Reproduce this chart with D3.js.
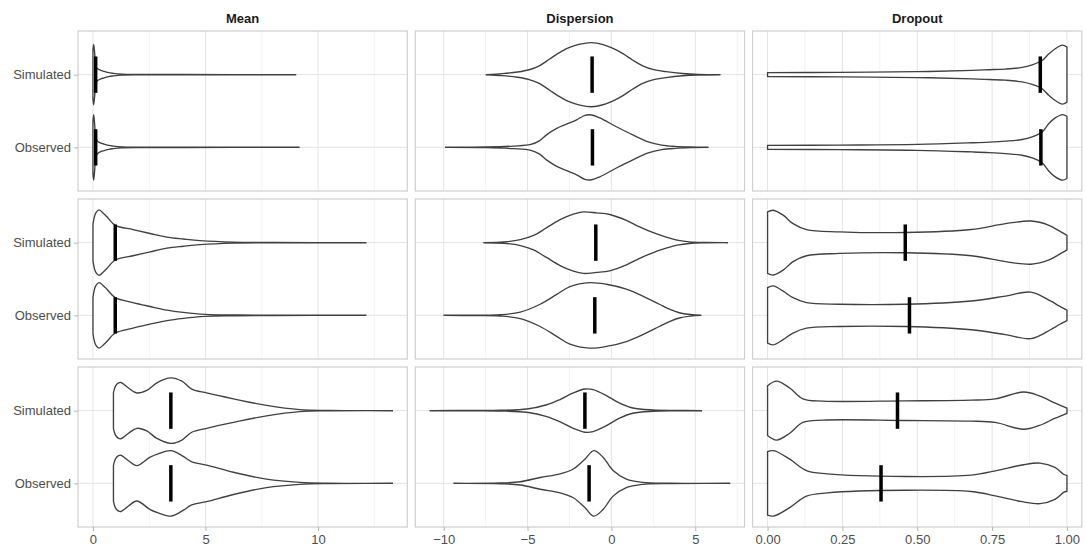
<!DOCTYPE html>
<html lang="en">
<head>
  <meta charset="UTF-8">
  <script src="https://cdn.jsdelivr.net/npm/d3@7"></script>
  <title>violins</title>
  <style>
    body { margin: 0; background: #fff; }
    text { font-family: Arial, "Liberation Sans", sans-serif; }
  </style>
</head>
<body>
  <svg class="svg" width="1086" height="546"></svg>
  <script>
    // facet columns and violin groups
    const columns = ["Mean", "Dispersion", "Dropout"]
    const groups = ["Simulated", "Observed"]
    const meanTicks = [0, 5, 10]
    const dispTicks = [-10, -5, 0, 5]
    const dropTicks = [0, 0.25, 0.5, 0.75, 1]

    // violin profiles: [value, relative half width]
    const mean1Sim = [[0, 0.75], [0.03, 0.92], [0.07, 0.7], [0.11, 0.38], [0.16, 0.22], [0.22, 0.17], [0.35, 0.13], [0.5, 0.1], [0.7, 0.06], [0.9, 0.04], [1.3, 0.015], [2, 0.006], [4, 0.003], [9.0, 0.002]]
    const mean1Obs = [[0, 0.8], [0.03, 1.0], [0.07, 0.75], [0.11, 0.4], [0.16, 0.23], [0.22, 0.18], [0.35, 0.13], [0.5, 0.1], [0.7, 0.06], [0.9, 0.04], [1.3, 0.015], [2, 0.006], [4, 0.003], [9.15, 0.002]]
    const mean2Sim = [[0, 0.55], [0.05, 0.75], [0.12, 0.9], [0.27, 1.0], [0.47, 0.89], [0.62, 0.79], [0.99, 0.53], [1.78, 0.4], [2.54, 0.28], [3.28, 0.17], [4.02, 0.11], [4.76, 0.06], [6.24, 0.015], [8, 0.005], [12.12, 0.002]]
    const mean2Obs = [[0, 0.55], [0.05, 0.75], [0.12, 0.9], [0.27, 1.0], [0.47, 0.9], [0.62, 0.8], [0.99, 0.54], [1.78, 0.39], [2.54, 0.27], [3.28, 0.16], [4.02, 0.09], [5.0, 0.03], [6.24, 0.012], [8, 0.004], [12.12, 0.002]]
    const mean3Sim = [[0.91, 0.55], [1.0, 0.75], [1.12, 0.84], [1.24, 0.86], [1.58, 0.69], [1.95, 0.54], [2.39, 0.62], [2.84, 0.85], [3.46, 1.0], [3.95, 0.9], [4.39, 0.66], [5.05, 0.54], [6.24, 0.36], [7.71, 0.16], [9.19, 0.03], [10.5, 0.006], [13.3, 0.002]]
    const mean3Obs = [[0.91, 0.55], [1.0, 0.75], [1.12, 0.84], [1.24, 0.86], [1.58, 0.69], [1.95, 0.54], [2.54, 0.8], [2.9, 0.9], [3.46, 1.0], [3.95, 0.85], [4.39, 0.66], [5.05, 0.56], [6.24, 0.34], [7.71, 0.13], [9.19, 0.03], [10.5, 0.006], [13.3, 0.002]]

    const disp1Sim = [[-7.46, 0.002], [-6.5, 0.03], [-5.6, 0.08], [-4.9, 0.15], [-4.3, 0.27], [-3.7, 0.47], [-3.2, 0.64], [-2.6, 0.81], [-1.88, 0.93], [-1.18, 0.98], [-0.5, 0.92], [0.1, 0.8], [0.69, 0.64], [1.28, 0.44], [1.87, 0.27], [2.47, 0.16], [3.26, 0.09], [4.24, 0.035], [5.2, 0.01], [6.47, 0.002]]
    const disp1Obs = [[-9.88, 0.002], [-7.5, 0.01], [-5.83, 0.04], [-4.8, 0.09], [-4.3, 0.2], [-3.85, 0.39], [-3.26, 0.58], [-2.67, 0.71], [-2.07, 0.84], [-1.58, 0.98], [-1.18, 0.99], [-0.69, 0.9], [0.3, 0.63], [1.28, 0.38], [2.2, 0.17], [3.0, 0.07], [3.8, 0.03], [4.7, 0.01], [5.76, 0.002]]
    const disp2Sim = [[-7.6, 0.002], [-6.42, 0.02], [-5.43, 0.09], [-4.64, 0.22], [-3.85, 0.46], [-3.06, 0.7], [-2.27, 0.87], [-1.68, 0.94], [-0.89, 0.91], [-0.1, 0.86], [0.89, 0.68], [1.68, 0.48], [2.46, 0.31], [3.26, 0.17], [4.0, 0.07], [4.64, 0.025], [5.6, 0.006], [6.91, 0.002]]
    const disp2Obs = [[-9.97, 0.002], [-8, 0.006], [-6.62, 0.02], [-5.43, 0.1], [-4.25, 0.34], [-3.26, 0.64], [-2.47, 0.88], [-1.29, 1.0], [-0.3, 0.95], [0.89, 0.8], [1.87, 0.59], [2.86, 0.34], [3.5, 0.18], [4.05, 0.08], [4.7, 0.025], [5.33, 0.002]]
    const disp3Sim = [[-10.8, 0.002], [-8, 0.005], [-6.62, 0.012], [-5.04, 0.05], [-3.85, 0.18], [-3.06, 0.34], [-2.27, 0.54], [-1.58, 0.66], [-1.09, 0.64], [-0.3, 0.46], [0.49, 0.23], [1.28, 0.08], [2.47, 0.02], [3.8, 0.005], [5.37, 0.002]]
    const disp3Obs = [[-9.38, 0.002], [-6.62, 0.012], [-5.43, 0.05], [-4.25, 0.18], [-3.06, 0.29], [-2.27, 0.44], [-1.58, 0.74], [-1.05, 1.0], [-0.5, 0.8], [0.1, 0.39], [0.89, 0.13], [1.87, 0.03], [3.5, 0.006], [7.05, 0.002]]

    const drop1Sim = [[0, 0.06], [0.24, 0.07], [0.5, 0.09], [0.684, 0.13], [0.74, 0.15], [0.795, 0.17], [0.85, 0.22], [0.884, 0.3], [0.917, 0.43], [0.939, 0.63], [0.961, 0.79], [0.985, 0.9], [1.0, 0.84]]
    const drop1Obs = [[0, 0.06], [0.24, 0.07], [0.5, 0.09], [0.684, 0.14], [0.74, 0.16], [0.795, 0.19], [0.85, 0.24], [0.884, 0.32], [0.917, 0.47], [0.939, 0.72], [0.961, 0.9], [0.985, 1.0], [1.0, 0.95]]
    const drop2Sim = [[0, 0.94], [0.019, 0.99], [0.052, 0.84], [0.085, 0.58], [0.13, 0.4], [0.24, 0.33], [0.46, 0.31], [0.68, 0.4], [0.795, 0.58], [0.88, 0.66], [0.94, 0.53], [0.97, 0.38], [1.0, 0.22]]
    const drop2Obs = [[0, 0.85], [0.019, 0.9], [0.052, 0.74], [0.085, 0.54], [0.13, 0.39], [0.24, 0.34], [0.46, 0.34], [0.68, 0.44], [0.795, 0.59], [0.88, 0.71], [0.945, 0.44], [0.975, 0.28], [1.0, 0.16]]
    const drop3Sim = [[0, 0.76], [0.03, 0.9], [0.074, 0.69], [0.118, 0.36], [0.185, 0.29], [0.46, 0.3], [0.68, 0.32], [0.76, 0.36], [0.856, 0.57], [0.906, 0.46], [0.961, 0.23], [1.0, 0.08]]
    const drop3Obs = [[0, 0.97], [0.02, 1.0], [0.074, 0.74], [0.13, 0.39], [0.2, 0.29], [0.46, 0.21], [0.68, 0.25], [0.765, 0.39], [0.85, 0.56], [0.91, 0.62], [0.96, 0.49], [0.99, 0.27], [1.0, 0.24]]

    // medians per row: [Simulated, Observed]
    const meanMedians = [[0.12, 0.12], [0.99, 0.99], [3.46, 3.46]]
    const dispMedians = [[-1.15, -1.13], [-0.93, -0.99], [-1.58, -1.33]]
    const dropMedians = [[0.911, 0.913], [0.46, 0.474], [0.434, 0.379]]

    const profiles = {
      Mean: [[mean1Sim, mean1Obs], [mean2Sim, mean2Obs], [mean3Sim, mean3Obs]],
      Dispersion: [[disp1Sim, disp1Obs], [disp2Sim, disp2Obs], [disp3Sim, disp3Obs]],
      Dropout: [[drop1Sim, drop1Obs], [drop2Sim, drop2Obs], [drop3Sim, drop3Obs]]
    }
    const medians = {Mean: meanMedians, Dispersion: dispMedians, Dropout: dropMedians}
    const ticks = {Mean: meanTicks, Dispersion: dispTicks, Dropout: dropTicks}
    const formats = {Mean: d3.format("d"), Dispersion: d3.format("d"), Dropout: d3.format(".2f")}

    let svg = d3.select(".svg")
    let margin = {top: 31, left: 78}
    let panelW = 329.3, panelH = 160, gap = 8

    // x scale per column, shared across rows (5% expansion like ggplot)
    let xScales = {}
    columns.forEach((c, ci) => {
      let all = profiles[c].flat(2)
      let ext = d3.extent(all, d => d[0])
      let pad = (ext[1] - ext[0]) * 0.05
      let x0 = margin.left + ci * (panelW + gap)
      xScales[c] = d3.scaleLinear().domain([ext[0] - pad, ext[1] + pad]).range([x0, x0 + panelW])
    })

    let area = (x, cy, hw) => d3.area()
      .x(d => x(d[0]))
      .y0(d => cy + d[1] * hw)
      .y1(d => cy - d[1] * hw)
      .curve(d3.curveCatmullRom.alpha(0.5))

    // strip titles
    columns.forEach(c => {
      let x = xScales[c]
      svg.append("text")
        .attr("x", (x.range()[0] + x.range()[1]) / 2)
        .attr("y", 23)
        .attr("text-anchor", "middle")
        .attr("font-size", 13)
        .attr("font-weight", "bold")
        .attr("fill", "#1a1a1a")
        .text(c)
    })

    for (let r = 0; r < 3; r++) {
      let y0 = margin.top + r * (panelH + gap)
      let y = d3.scalePoint().domain(groups).range([y0, y0 + panelH]).padding(0.6)
      let hw = 0.45 * y.step()

      columns.forEach((c, ci) => {
        let x = xScales[c]
        let [xa, xb] = x.range()
        let g = svg.append("g")

        g.append("rect").attr("x", xa).attr("y", y0).attr("width", xb - xa).attr("height", panelH).attr("fill", "#fff")

        // minor grid at midpoints
        let t = ticks[c], step = t[1] - t[0]
        let minor = d3.range(t[0] - step / 2, t[t.length - 1] + step, step)
          .filter(v => v > x.domain()[0] && v < x.domain()[1])
        g.selectAll(".minor").data(minor).join("line")
          .attr("x1", d => x(d)).attr("x2", d => x(d))
          .attr("y1", y0).attr("y2", y0 + panelH)
          .attr("stroke", "#efefef").attr("stroke-width", 0.8)
        g.selectAll(".major").data(t).join("line")
          .attr("x1", d => x(d)).attr("x2", d => x(d))
          .attr("y1", y0).attr("y2", y0 + panelH)
          .attr("stroke", "#e4e4e4").attr("stroke-width", 1)
        g.selectAll(".hmajor").data(groups).join("line")
          .attr("x1", xa).attr("x2", xb)
          .attr("y1", d => y(d)).attr("y2", d => y(d))
          .attr("stroke", "#e4e4e4").attr("stroke-width", 1)

        // violins
        groups.forEach((grp, gi) => {
          let cy = y(grp)
          g.append("path")
            .attr("d", area(x, cy, hw)(profiles[c][r][gi]))
            .attr("fill", "#fff")
            .attr("stroke", "#404040")
            .attr("stroke-width", 1.35)
          let m = medians[c][r][gi]
          g.append("line")
            .attr("x1", x(m)).attr("x2", x(m))
            .attr("y1", cy - 0.25 * y.step()).attr("y2", cy + 0.25 * y.step())
            .attr("stroke", "#000")
            .attr("stroke-width", 3.5)
        })

        g.append("rect").attr("x", xa).attr("y", y0).attr("width", xb - xa).attr("height", panelH)
          .attr("fill", "none").attr("stroke", "#cfcfcf").attr("stroke-width", 1.2)

        if (r == 2) {
          svg.append("g")
            .attr("transform", `translate(0,${y0 + panelH})`)
            .call(d3.axisBottom(x).tickValues(t).tickFormat(formats[c]).tickSize(4).tickPadding(4))
            .call(g => g.select(".domain").remove())
            .call(g => g.selectAll("line").attr("stroke", "#b3b3b3"))
            .call(g => g.selectAll("text").attr("font-size", 13).attr("fill", "#4d4d4d").attr("font-family", null))
        }
      })

      svg.append("g")
        .attr("transform", `translate(${margin.left},0)`)
        .call(d3.axisLeft(y).tickSize(4).tickPadding(3))
        .call(g => g.select(".domain").remove())
        .call(g => g.selectAll("line").attr("stroke", "#b3b3b3"))
        .call(g => g.selectAll("text").attr("font-size", 13).attr("fill", "#4d4d4d").attr("font-family", null))
    }
  </script>
</body>
</html>
